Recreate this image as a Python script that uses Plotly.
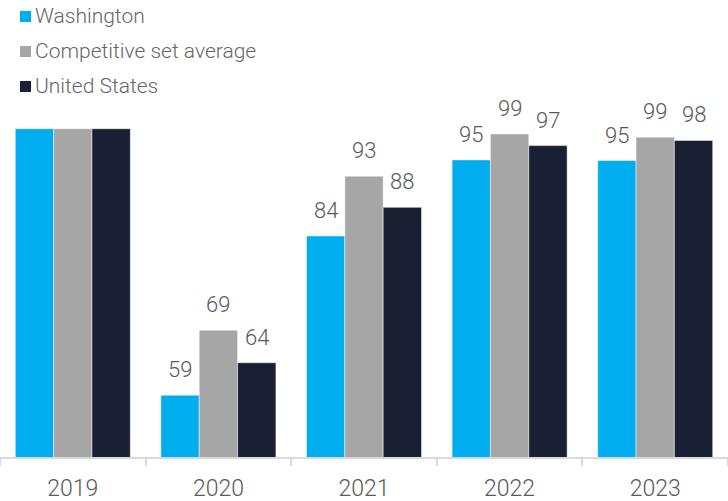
import plotly.graph_objects as go

years = ["2019", "2020", "2021", "2022", "2023"]
washington = [100, 59, 83.5, 95.2, 95.1]
competitive = [100, 69, 92.7, 99.2, 98.7]
united_states = [100, 64, 87.9, 97.4, 98.2]
show_labels = [False, True, True, True, True]

series = [
    ("Washington", washington, "#00AEEF"),
    ("Competitive set average", competitive, "#A6A6A6"),
    ("United States", united_states, "#1A2033"),
]

FONT = "Roboto"
TEXT_COLOR = "#595959"
BARGAP = 0.21
W, H = 728, 501
PLOT_H = 457

fig = go.Figure()
for name, vals, col in series:
    fig.add_trace(go.Bar(
        x=years, y=vals, name=name, showlegend=False,
        marker=dict(color=col, line=dict(color="rgba(255,255,255,0.6)", width=0.8)),
    ))

# data labels as annotations positioned over each grouped bar
band_px = W / len(years)
bar_px = band_px * (1 - BARGAP) / len(series)
for i, (name, vals, col) in enumerate(series):
    for j, (v, show) in enumerate(zip(vals, show_labels)):
        if not show:
            continue
        fig.add_annotation(
            x=j, y=v, text=f"{round(v):d}", showarrow=False,
            xref="x", yref="y", yanchor="bottom",
            xshift=(i - 1) * bar_px, yshift=11,
            font=dict(family=FONT, size=22, color=TEXT_COLOR, weight=300),
        )

# manual legend (squares + text) in the top-left corner
legend_rows_px = [16, 51, 86]
for (name, vals, col), row in zip(series, legend_rows_px):
    yp = (PLOT_H - row) / PLOT_H
    fig.add_shape(
        type="rect", xref="paper", yref="paper",
        xsizemode="pixel", ysizemode="pixel",
        xanchor=0, yanchor=yp, x0=20, x1=31, y0=-6, y1=5,
        fillcolor=col, line=dict(width=0),
    )
    fig.add_annotation(
        xref="paper", yref="paper", x=0, y=yp, xshift=33,
        xanchor="left", yanchor="middle", showarrow=False,
        text=name, font=dict(family=FONT, size=21, color="#666666", weight=300),
    )

fig.update_layout(
    width=W, height=H,
    margin=dict(l=0, r=0, t=0, b=H - PLOT_H),
    paper_bgcolor="white", plot_bgcolor="white",
    barmode="group", bargap=BARGAP, bargroupgap=0,
    showlegend=False,
    xaxis=dict(
        type="category", range=[-0.5, len(years) - 0.5],
        showline=True, linecolor="#D9D9D9", linewidth=2,
        ticks="outside", tickson="boundaries", ticklen=7, tickcolor="#D9D9D9", tickwidth=1.5,
        ticklabelstandoff=9,
        tickfont=dict(family=FONT, size=23, color=TEXT_COLOR, weight=300),
        showgrid=False, zeroline=False,
    ),
    yaxis=dict(
        range=[49.5, 119.8], visible=False, showgrid=False, zeroline=False,
    ),
)

fig.write_html("out.html")
